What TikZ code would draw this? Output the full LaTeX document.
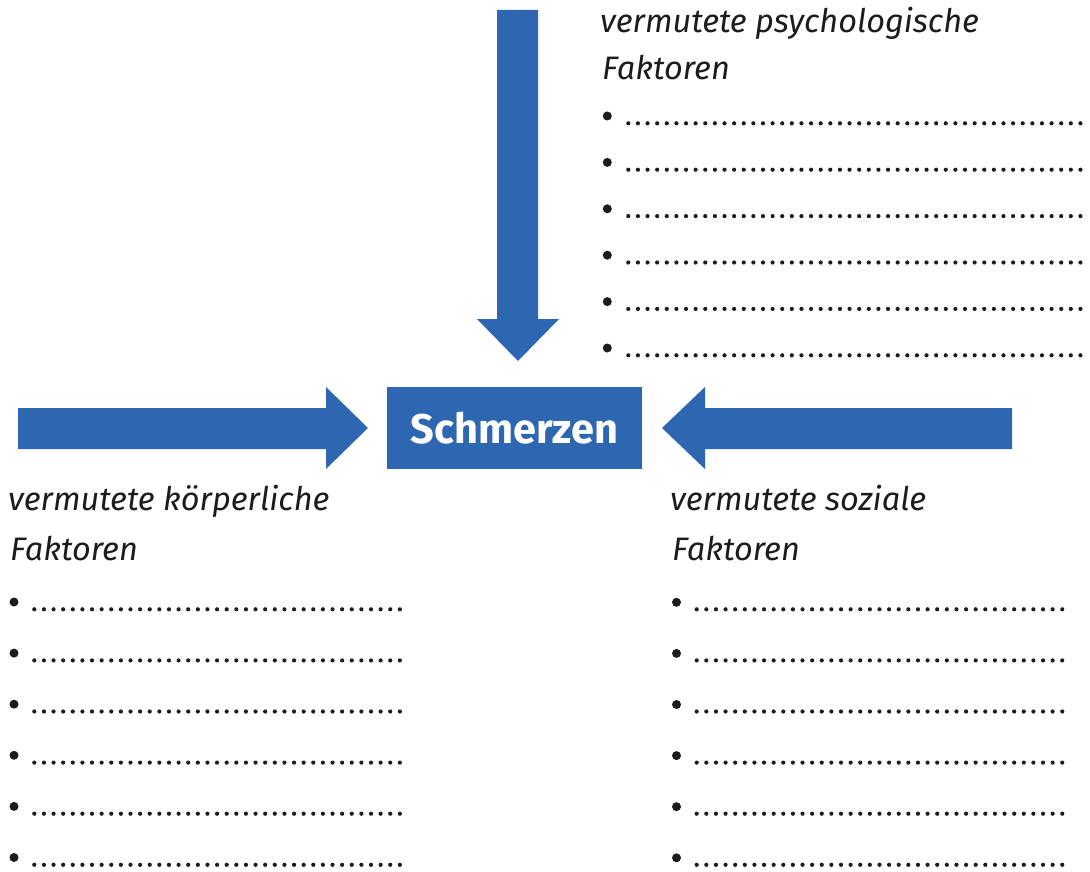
\documentclass[tikz,border=0pt]{standalone}
\usepackage{fontspec}
\setmainfont{Fira Sans}
\definecolor{arrowblue}{HTML}{2E67B1}
\definecolor{ink}{HTML}{1C1C1C}
\tikzset{
  blockarrow/.style={fill=arrowblue, draw=none},
  lbl/.style={anchor=base west, inner sep=0pt, text=ink, font=\fontsize{32.5}{38}\selectfont\itshape},
  bulletdot/.style={fill=ink},
  dotline/.style={draw=ink, line width=4.2pt, line cap=round, dash pattern=on 0pt off 9.62pt},
  centerbox/.style={fill=arrowblue, minimum width=255pt, minimum height=82pt, inner sep=0pt, text=white, font=\fontsize{41.5}{48}\selectfont\bfseries}
}
\begin{document}
\begin{tikzpicture}[x=1pt,y=-1pt]
\useasboundingbox (0,0) rectangle (1090,872);
% central box
\node[centerbox] (box) at (514.5,428) {Schmerzen};
% arrows
\coordinate (topstart) at (517.5,10);
\coordinate (leftstart) at (18,428.5);
\coordinate (rightstart) at (1012,428.5);
\fill[blockarrow] (497,10) -- (538,10) -- (538,319) -- (559,319) -- (518,361) -- (477,319) -- (497,319) -- cycle;
\fill[blockarrow] (18,408) -- (326,408) -- (326,387) -- (368,428) -- (326,469) -- (326,449) -- (18,449) -- cycle;
\fill[blockarrow] (1012,408) -- (705,408) -- (705,387) -- (662,428) -- (705,469) -- (705,449) -- (1012,449) -- cycle;
% labels
\node[lbl] (psyA) at (600,33) {vermutete psychologische};
\node[lbl] (psyB) at (602,80) {Faktoren};
\node[lbl] (korA) at (8,510) {vermutete körperliche};
\node[lbl] (korB) at (10,560) {Faktoren};
\node[lbl] (sozA) at (670,510) {vermutete soziale};
\node[lbl] (sozB) at (672,560) {Faktoren};
% bullet rows
\foreach \i in {0,...,5}{
  \fill[bulletdot] (607.3,116+46.4*\i) circle (4.5);
  \draw[dotline] (628.3,123.3+46.4*\i) -- (1081,123.3+46.4*\i);
  \fill[bulletdot] (14,602+51.1*\i) circle (4.5);
  \draw[dotline] (34.3,609.3+51.1*\i) -- (401,609.3+51.1*\i);
  \fill[bulletdot] (676.5,602.3+51.1*\i) circle (4.5);
  \draw[dotline] (696.7,609.3+51.1*\i) -- (1063.5,609.3+51.1*\i);
}
\end{tikzpicture}
\end{document}
